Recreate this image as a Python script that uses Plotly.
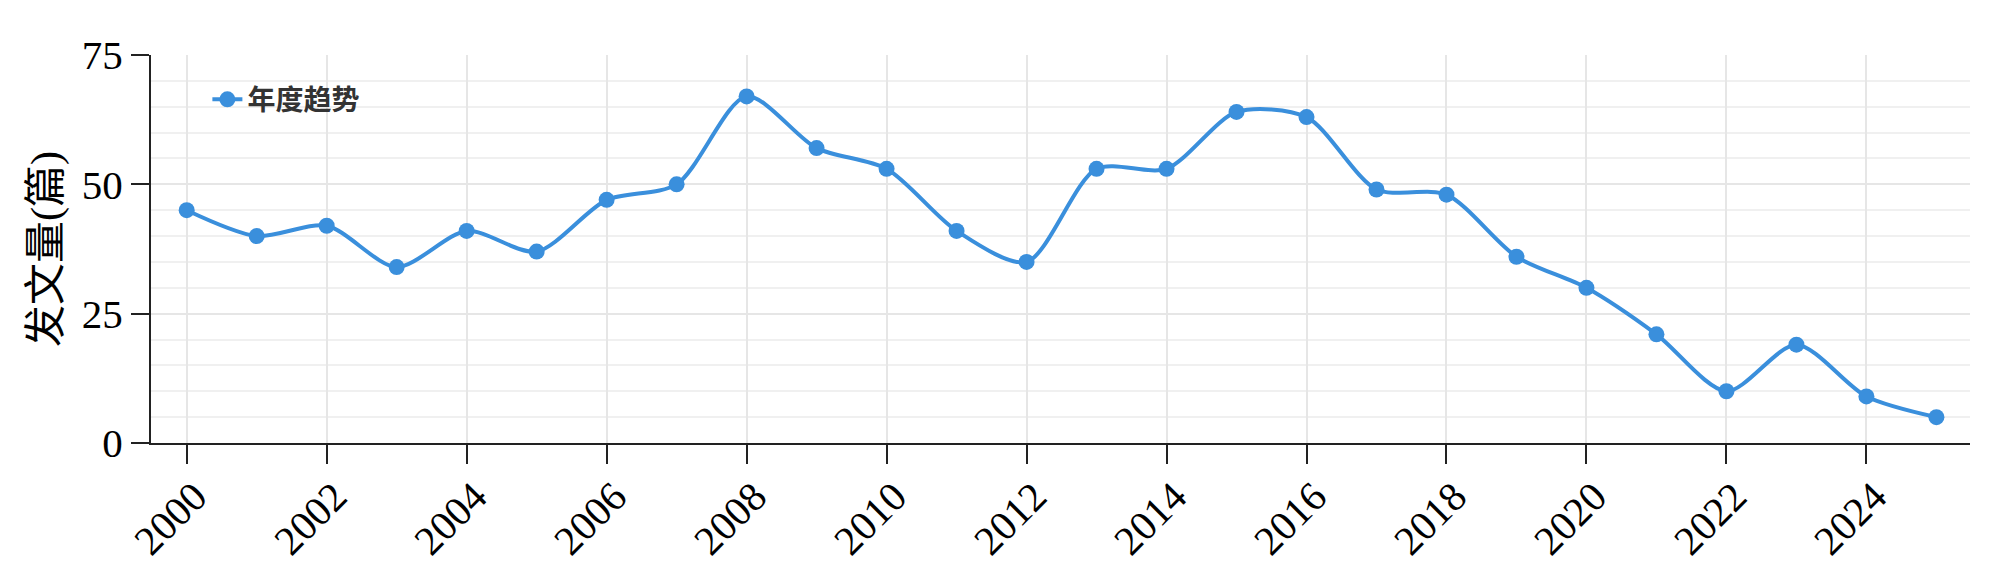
import plotly.graph_objects as go

years = list(range(2000, 2026))
counts = [45, 40, 42, 34, 41, 37, 47, 50, 67, 57, 53, 41, 35,
          53, 53, 64, 63, 49, 48, 36, 30, 21, 10, 19, 9, 5]
series_name = "年度趋势"
y_title = "发文量(篇)"
x_ticks = list(range(2000, 2026, 2))
y_ticks = [0, 25, 50, 75]

color = "#3a8fdc"
serif = "Liberation Serif, Times New Roman, Noto Sans CJK SC, serif"

fig = go.Figure()
fig.add_trace(go.Scatter(
    x=years, y=counts, name=series_name, mode="lines+markers",
    line=dict(color=color, width=4, shape="spline", smoothing=0.8),
    marker=dict(color=color, size=16),
))

fig.update_layout(
    width=1984, height=560,
    margin=dict(l=143, r=22, t=47, b=125),
    paper_bgcolor="white", plot_bgcolor="white",
    showlegend=True,
    legend=dict(x=0.031, y=0.885, xanchor="left", yanchor="middle",
                bgcolor="rgba(0,0,0,0)",
                font=dict(family="Noto Sans CJK SC", size=28, color="#333333", weight="bold")),
    xaxis=dict(
        range=[1999.49, 2025.48], tickmode="array", tickvals=x_ticks,
        ticktext=[str(v) for v in x_ticks], tickangle=-45,
        ticks="outside", ticklen=19, tickwidth=2, tickcolor="#222",
        ticklabelshift=8, ticklabelstandoff=-8,
        showline=True, linecolor="#222", linewidth=2,
        showgrid=True, gridcolor="#e6e6e6", gridwidth=2,
        zeroline=False, automargin=False,
        tickfont=dict(family=serif, size=41, color="black"),
    ),
    yaxis=dict(
        range=[0, 75], tickmode="array", tickvals=y_ticks,
        ticks="outside", ticklen=18, tickwidth=2, tickcolor="#222",
        showline=True, linecolor="#222", linewidth=2,
        showgrid=True, gridcolor="#e6e6e6", gridwidth=2,
        minor=dict(dtick=5, showgrid=True, gridcolor="#f0f0f0", gridwidth=2, ticks=""),
        zeroline=False, automargin=False,
        tickfont=dict(family=serif, size=41, color="black"),
        title=dict(text=y_title, font=dict(family=serif, size=42, color="black"), standoff=8),
    ),
)

fig.write_html("out.html")
